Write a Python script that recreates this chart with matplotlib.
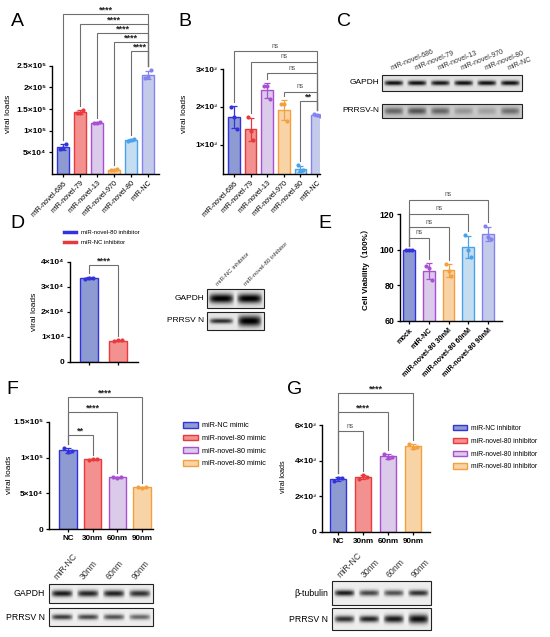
import matplotlib
matplotlib.use("Agg")
import matplotlib.pyplot as plt
import numpy as np
from matplotlib.patches import Patch
from matplotlib.lines import Line2D

plt.rcParams['font.family'] = ['Liberation Sans', 'DejaVu Sans', 'Noto Sans CJK SC']

# ---------------- data ----------------
a_groups = ['miR-novel-686', 'miR-novel-79', 'miR-novel-13', 'miR-novel-970', 'miR-novel-80', 'miR-NC']
a_pts = [[5.8e4, 6.0e4, 6.9e4], [1.40e5, 1.42e5, 1.49e5], [1.17e5, 1.19e5, 1.21e5],
         [0.9e4, 1.0e4, 1.1e4], [7.6e4, 7.9e4, 8.2e4], [2.22e5, 2.25e5, 2.40e5]]
a_yticks = [5e4, 1e5, 1.5e5, 2e5, 2.5e5]
a_yticklabels = ['5×10⁴', '1×10⁵', '1.5×10⁵', '2×10⁵', '2.5×10⁵']
a_sig = ['****', '****', '****', '****', '****']

b_groups = a_groups
b_pts = [[2.0e3, 1.74e3, 1.42e3], [1.73e3, 1.35e3, 1.13e3], [2.55e3, 2.55e3, 2.2e3],
         [2.06e3, 2.06e3, 1.62e3], [0.45e3, 0.30e3, 0.32e3], [1.82e3, 1.78e3, 1.76e3]]
b_yticks = [1e3, 2e3, 3e3]
b_yticklabels = ['1×10³', '2×10³', '3×10³']
b_sig = ['ns', 'ns', 'ns', 'ns', '**']

c_lanes = ['miR-novel-686', 'miR-novel-79', 'miR-novel-13', 'miR-novel-970', 'miR-novel-80', 'miR-NC']
c_gapdh = [0.95, 0.95, 0.92, 0.95, 0.95, 0.95]
c_prrsv = [0.55, 0.65, 0.55, 0.28, 0.22, 0.5]

d_groups = ['miR-novel-80 inhibitor', 'miR-NC inhibitor']
d_pts = [[3.30e4, 3.36e4, 3.37e4], [0.84e4, 0.86e4, 0.87e4]]
d_yticks = [0, 1e4, 2e4, 3e4, 4e4]
d_yticklabels = ['0', '1×10⁴', '2×10⁴', '3×10⁴', '4×10⁴']
d_lanes = ['miR-NC inhibitor', 'miR-novel-80 inhibitor']
d_gapdh = [1.0, 1.0]
d_prrsv = [0.8, 1.0]

e_groups = ['mock', 'miR-NC', 'miR-novel-80 30nM', 'miR-novel-80 60nM', 'miR-novel-80 90nM']
e_pts = [[100, 100, 100], [91, 90, 83], [92, 88, 85], [108, 100, 96], [113, 107, 106]]
e_yticks = [60, 80, 100, 120]
e_sig = ['ns', 'ns', 'ns', 'ns']

f_groups = ['NC', '30nm', '60nm', '90nm']
f_legend = ['miR-NC mimic', 'miR-novel-80 mimic', 'miR-novel-80 mimic', 'miR-novel-80 mimic']
f_pts = [[1.14e5, 1.08e5, 1.09e5], [0.97e5, 0.98e5, 0.985e5],
         [0.735e5, 0.72e5, 0.725e5], [0.585e5, 0.58e5, 0.59e5]]
f_yticks = [0, 5e4, 1e5, 1.5e5]
f_yticklabels = ['0', '5×10⁴', '1×10⁵', '1.5×10⁵']
f_sig = ['****', '****', '**']
f_lanes = ['miR-NC', '30nm', '60nm', '90nm']
f_gapdh = [0.95, 0.9, 0.92, 0.85]
f_prrsv = [0.8, 0.75, 0.7, 0.6]

g_groups = ['NC', '30nm', '60nm', '90nm']
g_legend = ['miR-NC inhibitor', 'miR-novel-80 inhibitor', 'miR-novel-80 inhibitor', 'miR-novel-80 inhibitor']
g_pts = [[2.85e3, 3.05e3, 3.05e3], [3.0e3, 3.2e3, 3.1e3],
         [4.4e3, 4.15e3, 4.2e3], [4.95e3, 4.7e3, 4.75e3]]
g_yticks = [0, 2e3, 4e3, 6e3]
g_yticklabels = ['0', '2×10³', '4×10³', '6×10³']
g_sig = ['****', '****', 'ns']
g_lanes = ['miR-NC', '30nm', '60nm', '90nm']
g_tub = [0.95, 0.75, 0.7, 0.85]
g_prrsv = [0.85, 0.9, 0.95, 1.0]

# colours (edge, fill)
BLUE = ('#3333dd', '#8e9ad2')
RED = ('#e83a3c', '#f2918f')
PURPLE = ('#a84fd2', '#dccaea')
ORANGE = ('#f3a03e', '#f8d3a6')
SKY = ('#4aa2ea', '#c4ddf1')
PERI = ('#8383f0', '#c4cae9')

W, H = 550, 637
fig = plt.figure(figsize=(W / 100, H / 100), dpi=100)
ov = fig.add_axes([0, 0, 1, 1], zorder=10)
ov.patch.set_alpha(0)
ov.axis('off')


def add_ax(l, r, t, b):
    return fig.add_axes([l / W, 1 - b / H, (r - l) / W, (b - t) / H])


def lin(p0, v0, p1, v1):
    k = (v1 - v0) / (p1 - p0)
    return (lambda p: v0 + (p - p0) * k), (lambda v: p0 + (v - v0) / k)


def bar_panel(box, c0, step, pts, cols, width, pmap, yticks, yticklabels,
              xlabels, xrot, xfs, xbold, ylabel, ylab_xy, ylab_fs, ylab_bold=False,
              ytfs=6, ybottom=None):
    l, r, t, b = box
    to_val, to_px = pmap
    ax = add_ax(l, r, t, b)
    n = len(pts)
    ax.set_xlim(-(c0 - l) / step, n - 1 + (r - (c0 + step * (n - 1))) / step)
    ylo = to_val(b) if ybottom is None else ybottom
    ax.set_ylim(ylo, to_val(t))
    x = np.arange(n)
    means = [np.mean(p) for p in pts]
    sds = [np.std(p, ddof=1) for p in pts]
    for i in range(n):
        e, f = cols[i]
        ax.bar(x[i], means[i], width=width, color=f, edgecolor=e, linewidth=1.0, zorder=2)
        ax.errorbar(x[i], means[i], yerr=sds[i], color=e, capsize=2, elinewidth=0.9,
                    capthick=0.9, zorder=3)
        ax.scatter(x[i] + np.array([-0.17, 0, 0.17]) * width / 0.7, pts[i], s=9, color=e,
                   zorder=4, linewidths=0)
    for s in ['top', 'right']:
        ax.spines[s].set_visible(False)
    for s in ['left', 'bottom']:
        ax.spines[s].set_linewidth(1.0)
    ax.spines['left'].set_bounds(ylo, yticks[-1])
    ax.set_yticks(yticks)
    ax.set_yticklabels(yticklabels, fontsize=ytfs, fontweight='bold')
    ax.set_xticks(x)
    if xrot:
        ax.set_xticklabels(xlabels, fontsize=xfs, rotation=xrot, ha='right',
                           rotation_mode='anchor', fontweight='bold' if xbold else 'normal')
    else:
        ax.set_xticklabels(xlabels, fontsize=xfs, fontweight='bold' if xbold else 'normal')
    ax.tick_params(length=2.5, width=0.9, pad=1.5)
    ax.set_ylabel(ylabel, fontsize=ylab_fs, fontweight='bold' if ylab_bold else 'normal')
    ax.yaxis.set_label_coords((ylab_xy[0] - l) / (r - l), (b - ylab_xy[1]) / (b - t))
    ax.patch.set_alpha(0)
    return ax, means, sds


def brackets(ax, pmap, pts, means, sds, pairs, levels_px, labels, gap=4):
    to_val, to_px = pmap
    tops = [max(max(p), m + s) for p, m, s in zip(pts, means, sds)]
    for (i, j), lv, lab in zip(pairs, levels_px, labels):
        yl = to_val(lv)
        yi = to_val(to_px(tops[i]) - gap)
        yj = to_val(to_px(tops[j]) - gap)
        ax.plot([i, i, j, j], [yi, yl, yl, yj], color='#6f6f6f', lw=0.8,
                clip_on=False, zorder=5, solid_joinstyle='miter')
        if lab == 'ns':
            ax.text((i + j) / 2, to_val(lv - 1.5), lab, ha='center', va='bottom',
                    fontsize=4.8, color='#555555')
        else:
            ax.text((i + j) / 2, to_val(lv + 1), lab, ha='center', va='bottom',
                    fontsize=6.5, fontweight='bold', color='#222222')


def blot(x0, x1, y0, y1, intens, thick, bg=0.9, ink=0.88, hw=0.44):
    n = len(intens)
    ny, nx = 60, 60 * n
    yy = np.linspace(-1, 1, ny)[:, None]
    xx = np.linspace(0, n, nx)[None, :]
    img = np.zeros((ny, nx))
    for i, (a, t) in enumerate(zip(intens, thick)):
        hx = np.clip(1 - (np.abs(xx - (i + 0.5)) / hw) ** 4, 0, 1)
        vy = np.exp(-(yy / t) ** 2)
        img = np.maximum(img, a * hx * vy)
    ov.imshow(np.clip(bg - ink * img, 0, 1), cmap='gray', vmin=0, vmax=1,
              extent=(x0, x1, y1, y0), aspect='auto', interpolation='bilinear')
    ov.add_patch(plt.Rectangle((x0, y0), x1 - x0, y1 - y0, fill=False, ec='#222222', lw=0.8))


def lane_labels(x0, x1, y, labels, rot, fs, color='#333333', dx=0.0):
    n = len(labels)
    step = (x1 - x0) / n
    for i, lab in enumerate(labels):
        ov.text(x0 + step * (i + 0.5) + dx, y, lab, rotation=rot, ha='left', va='bottom',
                rotation_mode='anchor', fontsize=fs, color=color)


# ---------------- A ----------------
pa = lin(174.5, 0, 66, 2.5e5)
cols_a = [BLUE, RED, PURPLE, ORANGE, SKY, PERI]
ax, m, s = bar_panel((52, 159, 5, 174), 63, 17, a_pts, cols_a, 0.7, pa, a_yticks, a_yticklabels,
                     a_groups, 45, 5.2, False, 'viral loads', (12, 114), 6, ybottom=0)
brackets(ax, pa, a_pts, m, s, [(0, 5), (1, 5), (2, 5), (3, 5), (4, 5)],
         [14, 24, 33, 42, 51], a_sig)

# ---------------- B ----------------
pb = lin(144.5, 1e3, 69, 3e3)
ax, m, s = bar_panel((223, 320, 30, 174), 234, 16.6, b_pts, cols_a, 0.7, pb, b_yticks, b_yticklabels,
                     b_groups, 45, 5.2, False, 'viral loads', (188, 114), 6)
brackets(ax, pb, b_pts, m, s, [(0, 5), (1, 5), (2, 5), (3, 5), (4, 5)],
         [51, 62, 73, 92, 101], b_sig)

# ---------------- C blot ----------------
blot(382, 522, 75, 91, c_gapdh, [0.3] * 6, bg=0.88)
blot(382, 522, 104, 118, c_prrsv, [0.5] * 6, bg=0.78, ink=0.7)
ov.text(379, 83, 'GAPDH', ha='right', va='center', fontsize=6)
ov.text(379, 111, 'PRRSV-N', ha='right', va='center', fontsize=6)
lane_labels(382, 522, 72, c_lanes, 22, 5, dx=-1)

# ---------------- D ----------------
pd_ = lin(362, 0, 262, 4e4)
ax, m, s = bar_panel((70, 138, 250, 362), 89, 29, d_pts, [BLUE, RED], 0.62, pd_, d_yticks,
                     d_yticklabels, ['', ''], 0, 5, False, 'viral loads', (38, 312), 6, ybottom=0)
brackets(ax, pd_, d_pts, m, s, [(0, 1)], [265], ['****'])
fig.legend([Line2D([], [], color=BLUE[0], lw=2.5), Line2D([], [], color=RED[0], lw=2.5)], d_groups,
           loc='upper left', bbox_to_anchor=(64 / W, 1 - 230 / H), frameon=False, fontsize=4.3,
           handlelength=2.0, handletextpad=0.8, labelspacing=0.75, borderpad=0, borderaxespad=0)
blot(207, 264, 289, 308, d_gapdh, [0.5, 0.5], bg=0.9, ink=0.92, hw=0.47)
blot(207, 264, 312, 330, d_prrsv, [0.28, 0.6], bg=0.9, ink=0.92, hw=0.45)
ov.text(204, 298, 'GAPDH', ha='right', va='center', fontsize=6)
ov.text(204, 321, 'PRRSV N', ha='right', va='center', fontsize=6)
lane_labels(207, 264, 287, d_lanes, 45, 4.4, dx=-3)

# ---------------- E ----------------
pe = lin(321, 60, 214, 120)
cols_e = [BLUE, PURPLE, ORANGE, SKY, PERI]
ax, m, s = bar_panel((400, 502, 185, 321), 409, 19.75, e_pts, cols_e, 0.6, pe, e_yticks,
                     [str(v) for v in e_yticks], e_groups, 45, 5.2, True,
                     'Cell Viability（100%）', (370, 268), 5.8, ylab_bold=True, ytfs=6.3)
brackets(ax, pe, e_pts, m, s, [(0, 4), (0, 3), (0, 2), (0, 1)], [200, 214, 227, 238], e_sig)

# ---------------- F ----------------
pf = lin(529, 0, 422, 1.5e5)
cols_f = [BLUE, RED, PURPLE, ORANGE]
ax, m, s = bar_panel((49, 153, 385, 529), 68, 24.67, f_pts, cols_f, 0.69, pf, f_yticks,
                     f_yticklabels, f_groups, 0, 5.8, True, 'viral loads', (13, 475), 6)
brackets(ax, pf, f_pts, m, s, [(0, 3), (0, 2), (0, 1)], [397, 412, 435], f_sig)
fig.legend([Patch(facecolor=f, edgecolor=e, lw=1) for e, f in cols_f], f_legend,
           loc='upper left', bbox_to_anchor=(183 / W, 1 - 422 / H), frameon=False, fontsize=5.2,
           handlelength=2.1, handleheight=0.8, handletextpad=0.6, labelspacing=0.75,
           borderpad=0, borderaxespad=0)
blot(49, 153, 584, 603, f_gapdh, [0.35] * 4, bg=0.93)
blot(49, 153, 608, 626, f_prrsv, [0.3] * 4, bg=0.93)
ov.text(45, 594, 'GAPDH', ha='right', va='center', fontsize=6.3)
ov.text(45, 618, 'PRRSV N', ha='right', va='center', fontsize=6.3)
lane_labels(49, 153, 581, f_lanes, 50, 6.3, dx=-3)

# ---------------- G ----------------
pg = lin(532, 0, 425, 6e3)
ax, m, s = bar_panel((322, 430, 385, 532), 338, 25, g_pts, cols_f, 0.67, pg, g_yticks,
                     g_yticklabels, g_groups, 0, 5.8, True, 'viral loads', (287, 477), 5.2)
brackets(ax, pg, g_pts, m, s, [(0, 3), (0, 2), (0, 1)], [393, 412, 431], g_sig)
fig.legend([Patch(facecolor=f, edgecolor=e, lw=1) for e, f in cols_f], g_legend,
           loc='upper left', bbox_to_anchor=(453 / W, 1 - 425 / H), frameon=False, fontsize=4.9,
           handlelength=2.0, handleheight=0.8, handletextpad=0.7, labelspacing=0.85,
           borderpad=0, borderaxespad=0)
blot(332, 431, 581, 605, g_tub, [0.25] * 4, bg=0.93)
blot(332, 431, 608, 630, g_prrsv, [0.3, 0.3, 0.35, 0.42], bg=0.93)
ov.text(328, 593, 'β-tubulin', ha='right', va='center', fontsize=6.3)
ov.text(328, 619, 'PRRSV N', ha='right', va='center', fontsize=6.3)
lane_labels(332, 431, 579, g_lanes, 46, 6.3, dx=-3)

# panel letters
for lab, (px, py) in zip('ABCDEFG', [(17, 22), (185, 22), (344, 22), (17, 224),
                                     (325, 224), (12, 389), (295, 389)]):
    ov.text(px, py, lab, ha='center', va='center', fontsize=14)

ov.set_xlim(0, W)
ov.set_ylim(H, 0)

fig.savefig('out.png', dpi=100)
